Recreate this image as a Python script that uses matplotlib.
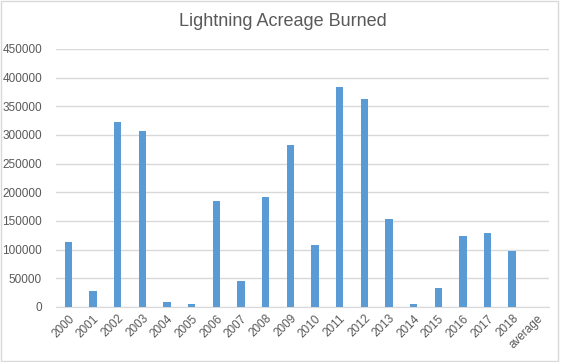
"""bar chart of lightning acreage burned per year (excel style)"""

import numpy as np
import matplotlib.pyplot as plt
from matplotlib.patches import Rectangle

plt.rcParams['font.family'] = ['Liberation Sans', 'DejaVu Sans']

# data
years = ['2000', '2001', '2002', '2003', '2004', '2005', '2006', '2007', '2008', '2009',
         '2010', '2011', '2012', '2013', '2014', '2015', '2016', '2017', '2018', 'average']
acres = [114000, 28000, 323000, 307000, 9000, 5500, 185000, 46000, 192000, 283000,
         108000, 384000, 363000, 154000, 5000, 33000, 124000, 129000, 98000, np.nan]
yticks = list(range(0, 450001, 50000))

bar_col = '#5B9BD5'
grid_col = '#D9D9D9'
text_col = '#595959'

fig = plt.figure(figsize=(5.65, 3.62), dpi=100)
ax = fig.add_axes([0.099, 0.152, 0.873, 0.713])

x = np.arange(len(years))
ax.bar(x, acres, width=0.3, color=bar_col, zorder=3)

ax.set_xlim(-0.5, len(years) - 0.5)
ax.set_ylim(0, 450000)
ax.set_yticks(yticks)
ax.set_yticklabels([str(v) for v in yticks], fontsize=8.5, color=text_col)
ax.set_xticks(x)
ax.set_xticklabels(years, rotation=45, ha='right', rotation_mode='anchor',
                   fontsize=8.5, color=text_col)

ax.grid(axis='y', color=grid_col, linewidth=1, zorder=0)
for s in ['top', 'right', 'left']:
    ax.spines[s].set_visible(False)
ax.spines['bottom'].set_color(grid_col)
ax.tick_params(axis='both', length=0, pad=4)
ax.tick_params(axis='y', pad=10)

fig.text(0.5, 0.94, 'Lightning Acreage Burned', ha='center', va='center',
         fontsize=13, color=text_col)

# chart area border
fig.patches.append(Rectangle((1 / 565, 1 / 362), 557 / 565, 360 / 362,
                             transform=fig.transFigure, fill=False,
                             edgecolor=grid_col, linewidth=1))

fig.savefig('out.png', dpi=100)
